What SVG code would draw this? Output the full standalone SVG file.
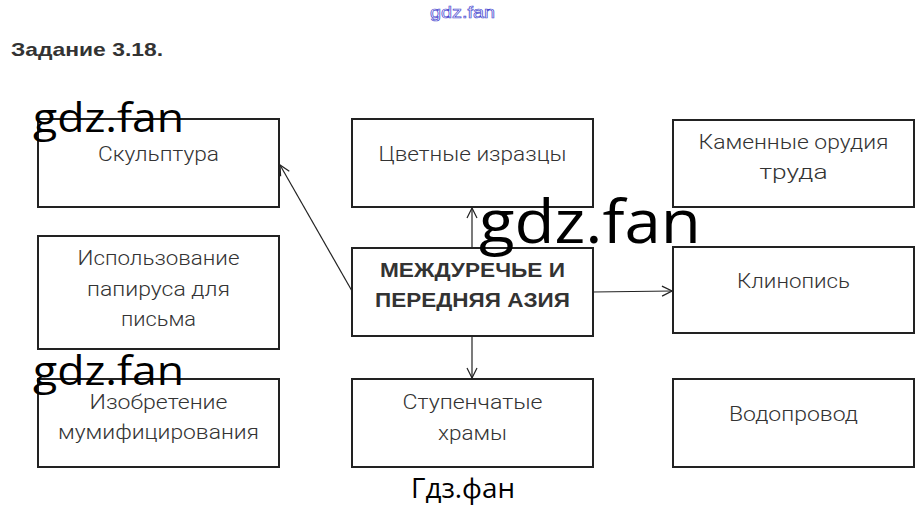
<svg xmlns="http://www.w3.org/2000/svg" width="924" height="508" viewBox="0 0 924 508">
<defs>
<marker id="arr" viewBox="0 0 12 12" refX="11" refY="6" markerWidth="12" markerHeight="12" markerUnits="userSpaceOnUse" orient="auto">
<path d="M1,1 L11,6 L1,11" fill="none" stroke="#222" stroke-width="1.2"/>
</marker>
<style>
.box{fill:#fff;stroke:#222;stroke-width:2}
.t{font-family:Roboto,"Liberation Sans",sans-serif;font-weight:300;font-size:21px;fill:#333;text-anchor:middle}
.b{font-family:"Liberation Sans",Arial,sans-serif;font-weight:bold;font-size:20px;fill:#333;text-anchor:middle}
.wm{font-family:"Open Sans","Noto Sans",sans-serif;fill:#000}
.c{fill:none;stroke:#222;stroke-width:1.2;marker-end:url(#arr)}
</style>
</defs>
<rect width="924" height="508" fill="#fff"/>
<text x="430" y="18" font-family="'Liberation Sans',sans-serif" font-size="17" fill="#fff" stroke="#4a4ad0" stroke-width="0.7" textLength="65" lengthAdjust="spacingAndGlyphs">gdz.fan</text>
<text x="11" y="56" font-family="'Liberation Sans',Arial,sans-serif" font-weight="bold" font-size="19" fill="#333" textLength="152" lengthAdjust="spacingAndGlyphs">Задание 3.18.</text>

<g id="connectors">
<line class="c" x1="352" y1="291" x2="280" y2="165"/>
<line class="c" x1="472" y1="248" x2="472" y2="208"/>
<line class="c" x1="472" y1="336" x2="472" y2="378"/>
<line class="c" x1="593" y1="292" x2="672" y2="291"/>
</g>

<g id="n-sculpture">
<rect class="box" x="38" y="119" width="241" height="88"/>
<text class="t" x="158.5" y="161" textLength="121" lengthAdjust="spacingAndGlyphs">Скульптура</text>
</g>
<g id="n-papyrus">
<rect class="box" x="38" y="236" width="241" height="113"/>
<text class="t" x="158.5" y="265" textLength="162" lengthAdjust="spacingAndGlyphs">Использование</text>
<text class="t" x="158.5" y="296" textLength="143" lengthAdjust="spacingAndGlyphs">папируса для</text>
<text class="t" x="158.5" y="326" textLength="75" lengthAdjust="spacingAndGlyphs">письма</text>
</g>
<g id="n-mummy">
<rect class="box" x="38" y="379" width="241" height="88"/>
<text class="t" x="158.5" y="409" textLength="138" lengthAdjust="spacingAndGlyphs">Изобретение</text>
<text class="t" x="158.5" y="439" textLength="201" lengthAdjust="spacingAndGlyphs">мумифицирования</text>
</g>
<g id="n-tiles">
<rect class="box" x="352" y="119" width="241" height="88"/>
<text class="t" x="472.5" y="161" textLength="188" lengthAdjust="spacingAndGlyphs">Цветные изразцы</text>
</g>
<g id="n-center">
<rect class="box" x="352" y="248" width="241" height="88"/>
<text class="b" x="472.5" y="277" textLength="185" lengthAdjust="spacingAndGlyphs">МЕЖДУРЕЧЬЕ И</text>
<text class="b" x="472.5" y="307" textLength="195" lengthAdjust="spacingAndGlyphs">ПЕРЕДНЯЯ АЗИЯ</text>
</g>
<g id="n-temples">
<rect class="box" x="352" y="379" width="241" height="88"/>
<text class="t" x="472.5" y="409" textLength="140" lengthAdjust="spacingAndGlyphs">Ступенчатые</text>
<text class="t" x="472.5" y="440" textLength="69" lengthAdjust="spacingAndGlyphs">храмы</text>
</g>
<g id="n-tools">
<rect class="box" x="673" y="120" width="241" height="87"/>
<text class="t" x="793.5" y="149" textLength="190" lengthAdjust="spacingAndGlyphs">Каменные орудия</text>
<text class="t" x="793.5" y="179" textLength="68" lengthAdjust="spacingAndGlyphs">труда</text>
</g>
<g id="n-cuneiform">
<rect class="box" x="673" y="247" width="241" height="86"/>
<text class="t" x="793.5" y="288" textLength="113" lengthAdjust="spacingAndGlyphs">Клинопись</text>
</g>
<g id="n-water">
<rect class="box" x="673" y="379" width="241" height="88"/>
<text class="t" x="793.5" y="421" textLength="129" lengthAdjust="spacingAndGlyphs">Водопровод</text>
</g>

<text class="wm" x="33" y="132" font-size="40" textLength="151" lengthAdjust="spacingAndGlyphs">gdz.fan</text>
<text class="wm" x="33" y="385" font-size="40" textLength="151" lengthAdjust="spacingAndGlyphs">gdz.fan</text>
<text class="wm" x="479" y="243" font-size="60" textLength="222" lengthAdjust="spacingAndGlyphs">gdz.fan</text>
<text class="wm" x="411" y="498" font-size="27" textLength="104" lengthAdjust="spacingAndGlyphs">Гдз.фан</text>
</svg>
